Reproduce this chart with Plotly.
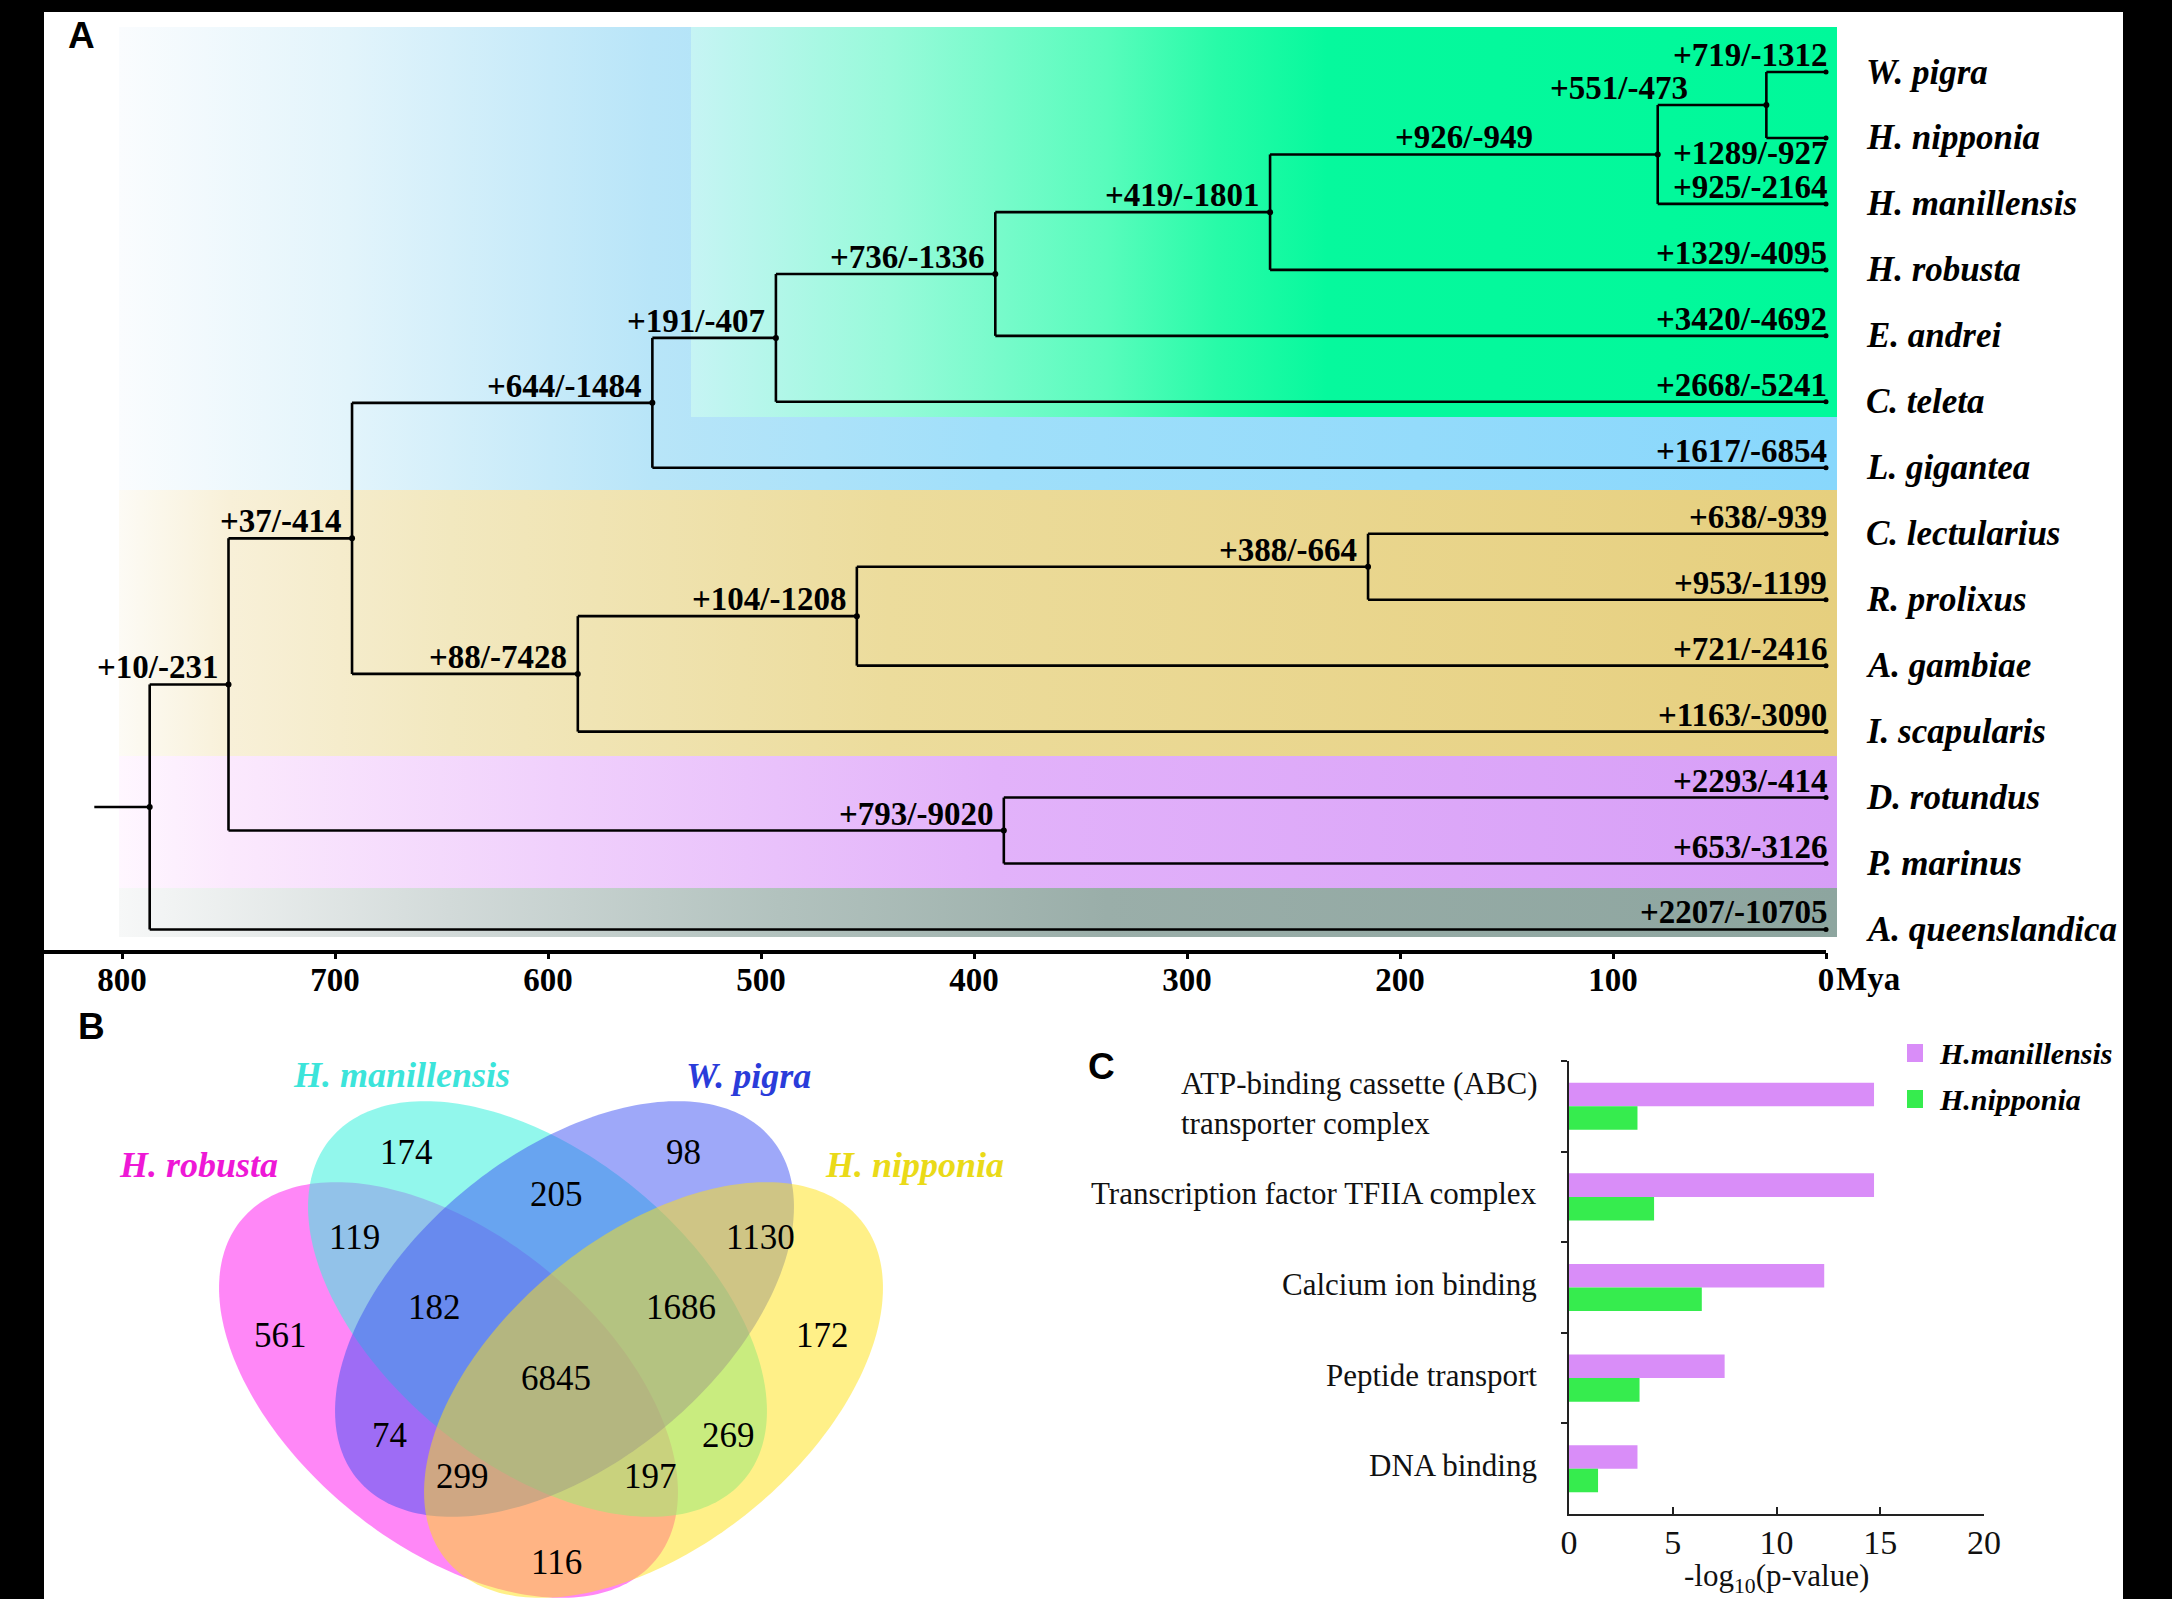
import numpy as np
import plotly.graph_objects as go

W, H = 2172, 1599

# ======================= DATA =======================
# ---- Panel A: time tree with gene family gains/losses ----
species = ["W. pigra", "H. nipponia", "H. manillensis", "H. robusta", "E. andrei", "C. teleta",
           "L. gigantea", "C. lectularius", "R. prolixus", "A. gambiae", "I. scapularis",
           "D. rotundus", "P. marinus", "A. queenslandica"]
tip_changes = ["+719/-1312", "+1289/-927", "+925/-2164", "+1329/-4095", "+3420/-4692",
               "+2668/-5241", "+1617/-6854", "+638/-939", "+953/-1199", "+721/-2416",
               "+1163/-3090", "+2293/-414", "+653/-3126", "+2207/-10705"]
node_ids = ["n1", "n2", "n3", "n4", "n5", "n6", "n7", "n8", "n9", "n10", "n11", "n12", "n13"]
node_children = [("W. pigra", "H. nipponia"), ("n1", "H. manillensis"), ("n2", "H. robusta"),
                 ("n3", "E. andrei"), ("n4", "C. teleta"), ("n5", "L. gigantea"),
                 ("C. lectularius", "R. prolixus"), ("n7", "A. gambiae"), ("n8", "I. scapularis"),
                 ("n6", "n9"), ("D. rotundus", "P. marinus"), ("n10", "n11"),
                 ("n12", "A. queenslandica")]
node_ages = [28, 79, 261, 390, 493, 551, 215, 455, 586, 692, 386, 750, 787]
node_changes = ["+551/-473", "+926/-949", "+419/-1801", "+736/-1336", "+191/-407", "+644/-1484",
                "+388/-664", "+104/-1208", "+88/-7428", "+37/-414", "+793/-9020", "+10/-231", ""]
root_stem_age = 813
time_ticks = [800, 700, 600, 500, 400, 300, 200, 100, 0]

# ---- Panel B: Venn diagram ----
venn_sets = ["H. robusta", "H. manillensis", "W. pigra", "H. nipponia"]
venn_regions = ["HR", "HM", "WP", "HN", "HM&WP", "HR&HM", "WP&HN", "HR&HM&WP", "HM&WP&HN",
                "HR&HM&WP&HN", "HR&WP", "HM&HN", "HR&WP&HN", "HR&HM&HN", "HR&HN"]
venn_counts = [561, 174, 98, 172, 205, 119, 1130, 182, 1686, 6845, 74, 269, 299, 197, 116]

# ---- Panel C: GO enrichment ----
go_terms = ["ATP-binding cassette (ABC)<br>transporter complex", "Transcription factor TFIIA complex",
            "Calcium ion binding", "Peptide transport", "DNA binding"]
series_names = ["H.manillensis", "H.nipponia"]
hm_values = [14.7, 14.7, 12.3, 7.5, 3.3]
hn_values = [3.3, 4.1, 6.4, 3.4, 1.4]

# ======================= LAYOUT CONSTANTS =======================
SERIF = "Liberation Serif"
SANS = "Liberation Sans"
px_per_myr = 2.13
zero_px = 1826.0
row0_px, row_px, axis_px = 72.0, 65.96, 952.0


def age_at(px):
    return (zero_px - px) / px_per_myr


def row_at(px):
    return (px - row0_px) / row_px


fig = go.Figure()
ann = []
shapes = []

# ---------------- background bands (panel A) ----------------
bands = [
    dict(x0=age_at(119), x1=age_at(1837), y0=row_at(27), y1=row_at(490),
         cs=[[0, "#FAFCFE"], [0.134, "#E2F4FB"], [0.31, "#B8E5F8"], [0.51, "#A0DFFA"], [1, "#88D7FC"]]),
    dict(x0=age_at(691), x1=age_at(1837), y0=row_at(27), y1=row_at(417),
         cs=[[0, "#C6F4F4"], [0.172, "#98FADA"], [0.363, "#58FCBC"], [0.459, "#28FBA8"],
             [0.555, "#06F99D"], [1, "#00F99A"]]),
    dict(x0=age_at(119), x1=age_at(1837), y0=row_at(490), y1=row_at(756),
         cs=[[0, "#FDFBF5"], [0.065, "#F8F0D8"], [0.193, "#F2E8BF"], [0.448, "#ECDC9C"], [1, "#E6CF7E"]]),
    dict(x0=age_at(119), x1=age_at(1837), y0=row_at(756), y1=row_at(888),
         cs=[[0, "#FFF7FF"], [0.065, "#FBE9FD"], [0.256, "#F0D0FC"], [0.51, "#E2B2FA"], [1, "#D79EF7"]]),
    dict(x0=age_at(119), x1=age_at(1837), y0=row_at(888), y1=row_at(937),
         cs=[[0, "#F7F8F8"], [0.192, "#D2DAD9"], [0.384, "#B2C2BE"], [0.575, "#9AAEA9"], [1, "#8DA59F"]]),
]
for b in bands:
    fig.add_trace(go.Scatter(
        x=[b["x0"], b["x1"], b["x1"], b["x0"], b["x0"]],
        y=[b["y0"], b["y0"], b["y1"], b["y1"], b["y0"]],
        mode="none", fill="toself",
        fillgradient=dict(type="horizontal", colorscale=b["cs"], start=b["x0"], stop=b["x1"]),
        showlegend=False, hoverinfo="skip", xaxis="x", yaxis="y"))

# ---------------- tree geometry ----------------
pos, age, parent = {}, {}, {}
for i, s in enumerate(species):
    pos[s] = i
    age[s] = 0
for nid, ch, a in zip(node_ids, node_children, node_ages):
    pos[nid] = (pos[ch[0]] + pos[ch[1]]) / 2
    age[nid] = a
    for c in ch:
        parent[c] = nid
root = node_ids[-1]

lx, ly = [], []
for nid, ch in zip(node_ids, node_children):
    lx += [age[nid], age[nid], None]
    ly += [pos[ch[0]], pos[ch[1]], None]
for k, p in parent.items():
    lx += [age[p], age[k], None]
    ly += [pos[k], pos[k], None]
lx += [root_stem_age, age[root], None]
ly += [pos[root], pos[root], None]

fig.add_trace(go.Scatter(x=lx, y=ly, mode="lines", line=dict(color="black", width=2.6),
                         showlegend=False, hoverinfo="skip", xaxis="x", yaxis="y"))
fig.add_trace(go.Scatter(x=[age[n] for n in node_ids], y=[pos[n] for n in node_ids], mode="markers",
                         marker=dict(color="black", size=6), showlegend=False, hoverinfo="skip",
                         xaxis="x", yaxis="y"))
fig.add_trace(go.Scatter(x=[age[s] for s in species], y=[pos[s] for s in species], mode="markers",
                         marker=dict(color="black", size=5), showlegend=False, hoverinfo="skip",
                         xaxis="x", yaxis="y"))

lab_font = dict(family=SERIF, size=33, color="black", weight="bold")
for s, t in zip(species, tip_changes):
    below = (s == "H. nipponia")
    ann.append(dict(x=0, y=pos[s], xref="x", yref="y", text=t, showarrow=False,
                    xanchor="right", yanchor="middle", xshift=3, yshift=-15 if below else 17,
                    font=lab_font))
    ann.append(dict(x=0, y=pos[s], xref="x", yref="y", text=s, showarrow=False,
                    xanchor="left", yanchor="middle", xshift=38, yshift=0,
                    font=dict(family=SERIF, size=35, color="black", weight="bold", style="italic")))

for nid, t in zip(node_ids, node_changes):
    if not t:
        continue
    if nid == "n2":  # label centred on its branch
        xa = (age[parent[nid]] + age[nid]) / 2
        ann.append(dict(x=xa, y=pos[nid], xref="x", yref="y", text=t, showarrow=False,
                        xanchor="center", yanchor="middle", yshift=17, font=lab_font))
    else:
        xs = -76 if nid == "n1" else -9
        ann.append(dict(x=age[nid], y=pos[nid], xref="x", yref="y", text=t, showarrow=False,
                        xanchor="right", yanchor="middle", xshift=xs, yshift=17, font=lab_font))

# time axis line and unit
shapes.append(dict(type="line", xref="x", yref="paper", x0=age_at(44), x1=0,
                   y0=1 - axis_px / H, y1=1 - axis_px / H, line=dict(color="black", width=4),
                   layer="above"))
ann.append(dict(x=0, y=1 - 979 / H, xref="x", yref="paper", text="Mya", showarrow=False,
                xanchor="left", yanchor="middle", xshift=8,
                font=dict(family=SERIF, size=33, color="black", weight="bold")))

# ---------------- Panel B: Venn ----------------
venn_colors = ["rgba(255,16,240,0.5)", "rgba(60,240,222,0.56)", "rgba(62,82,244,0.5)",
               "rgba(255,225,17,0.5)"]
venn_label_colors = ["#EE18D6", "#3CE4DA", "#2A3CDA", "#EADA18"]
ell_a, ell_b, ell_phi = 268.0, 155.0, np.deg2rad(39.3)
ell_geom = [(448.5, 1390.0, 1), (537.5, 1309.0, 1), (564.5, 1309.0, -1), (653.5, 1390.0, -1)]
tt = np.linspace(0, 2 * np.pi, 240)
for (cx, cy, sgn), col in zip(ell_geom, venn_colors):
    ph = sgn * ell_phi
    ex = cx + ell_a * np.cos(tt) * np.cos(ph) - ell_b * np.sin(tt) * np.sin(ph)
    ey = cy + ell_a * np.cos(tt) * np.sin(ph) + ell_b * np.sin(tt) * np.cos(ph)
    fig.add_trace(go.Scatter(x=ex, y=ey, mode="none", fill="toself", fillcolor=col,
                             showlegend=False, hoverinfo="skip", xaxis="x2", yaxis="y2"))

region_xy = {"HR": (280, 1335), "HM": (406, 1152), "WP": (683, 1152), "HN": (822, 1335),
             "HM&WP": (556, 1194), "HR&HM": (354, 1237), "WP&HN": (760, 1237),
             "HR&HM&WP": (434, 1307), "HM&WP&HN": (681, 1307), "HR&HM&WP&HN": (556, 1378),
             "HR&WP": (389, 1435), "HM&HN": (728, 1435), "HR&WP&HN": (462, 1476),
             "HR&HM&HN": (650, 1476), "HR&HN": (556, 1562)}
for r, c in zip(venn_regions, venn_counts):
    x, y = region_xy[r]
    ann.append(dict(x=x, y=y, xref="x2", yref="y2", text=str(c), showarrow=False,
                    xanchor="center", yanchor="middle",
                    font=dict(family=SERIF, size=35, color="black")))
set_label_xy = [(198, 1165), (401, 1075), (748, 1076), (914, 1165)]
for s, (x, y), col in zip(venn_sets, set_label_xy, venn_label_colors):
    ann.append(dict(x=x, y=y, xref="x2", yref="y2", text=s, showarrow=False,
                    xanchor="center", yanchor="middle",
                    font=dict(family=SERIF, size=36, color=col, weight="bold", style="italic")))

# ---------------- Panel C: bars ----------------
bar_colors = ["#D98DF8", "#36EC4E"]
for name, vals, col in zip(series_names, [hm_values, hn_values], bar_colors):
    fig.add_trace(go.Bar(y=go_terms, x=vals, orientation="h", name=name, showlegend=False,
                         marker=dict(color=col, line=dict(width=0)), xaxis="x3", yaxis="y3"))
for t in go_terms:
    ann.append(dict(x=0, y=t, xref="x3", yref="y3", text=t, showarrow=False, xanchor="right",
                    yanchor="middle", align="left", xshift=-30, yshift=3,
                    font=dict(family=SERIF, size=31, color="#111111")))
ann.append(dict(x=10, y=1 - 1578 / H, xref="x3", yref="paper", text="-log<sub>10</sub>(p-value)",
                showarrow=False, xanchor="center", yanchor="middle",
                font=dict(family=SERIF, size=31, color="#111111")))
# custom legend
for i, (name, col) in enumerate(zip(series_names, bar_colors)):
    yc = 1053 + 46 * i
    shapes.append(dict(type="rect", xref="paper", yref="paper", x0=1907 / W, x1=1923 / W,
                       y0=1 - (yc + 9) / H, y1=1 - (yc - 9) / H, fillcolor=col, line=dict(width=0)))
    ann.append(dict(x=1937 / W, y=1 - yc / H, xref="paper", yref="paper", text=name,
                    showarrow=False, xanchor="left", yanchor="middle",
                    font=dict(family=SERIF, size=30, color="black", weight="bold", style="italic")))

# ---------------- panel letters ----------------
for letter, (x, y) in zip(["A", "B", "C"], [(81, 36), (91, 1026), (1101, 1066)]):
    ann.append(dict(x=x / W, y=1 - y / H, xref="paper", yref="paper", text=letter, showarrow=False,
                    xanchor="center", yanchor="middle",
                    font=dict(family=SANS, size=37, color="black", weight="bold")))

# ---------------- black frame ----------------
for (x0, x1, y0, y1) in [(0, 44, 0, H), (0, W, 0, 12), (2123, W, 0, H)]:
    shapes.append(dict(type="rect", xref="paper", yref="paper", x0=x0 / W, x1=x1 / W,
                       y0=1 - y1 / H, y1=1 - y0 / H, fillcolor="black", line=dict(width=0),
                       layer="above"))

fig.update_layout(
    width=W, height=H, autosize=False, margin=dict(l=0, r=0, t=0, b=0, pad=0, autoexpand=False),
    paper_bgcolor="white", plot_bgcolor="rgba(0,0,0,0)",
    barmode="group", bargap=0.48, bargroupgap=0,
    annotations=ann, shapes=shapes,
    showlegend=False,
    xaxis=dict(domain=[0, 1], range=[age_at(0), age_at(W)], anchor="y", automargin=False,
               tickmode="array", tickvals=time_ticks, ticktext=[str(v) for v in time_ticks],
               ticks="outside", ticklen=6, tickwidth=2.5, tickcolor="black", ticklabelstandoff=-8,
               tickfont=dict(family=SERIF, size=33, color="black", weight="bold"),
               showline=False, showgrid=False, zeroline=False),
    yaxis=dict(domain=[1 - axis_px / H, 1], range=[row_at(axis_px), row_at(0)], anchor="x",
               visible=False, showgrid=False, zeroline=False, automargin=False),
    xaxis2=dict(domain=[0, 0.5], range=[0, 0.5 * W], anchor="y2", visible=False, automargin=False),
    yaxis2=dict(domain=[0, 1 - 1000 / H], range=[H, 1000], anchor="x2", visible=False,
                automargin=False),
    xaxis3=dict(domain=[1569 / W, 1984 / W], range=[0, 20], anchor="y3", automargin=False,
                tickmode="array", tickvals=[0, 5, 10, 15, 20], ticks="inside", ticklen=7,
                tickwidth=1.5, tickcolor="#222222", showline=True, linecolor="#222222", linewidth=2,
                showgrid=False, zeroline=False, ticklabelstandoff=-3,
                tickfont=dict(family=SERIF, size=34, color="#111111")),
    yaxis3=dict(domain=[1 - 1514 / H, 1 - 1061 / H], anchor="x3", type="category", automargin=False,
                categoryorder="array", categoryarray=go_terms, autorange="reversed",
                showticklabels=False, ticks="outside", tickson="boundaries", ticklen=6,
                tickwidth=1.5, tickcolor="#222222", showline=True, linecolor="#222222",
                linewidth=2, showgrid=False, zeroline=False),
)

fig.write_html("out.html")
